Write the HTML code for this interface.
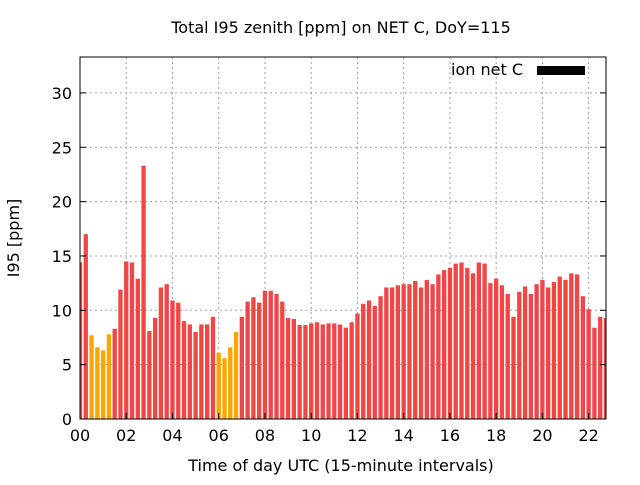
<!DOCTYPE html>
<html><head><meta charset="utf-8"><style>
body{margin:0;background:#fff}
svg text{font-family:"DejaVu Sans","Liberation Sans",sans-serif;fill:#000}
</style></head><body>
<svg id="chart" width="640" height="480" viewBox="0 0 640 480">
<text x="341" y="33" font-size="16" text-anchor="middle">Total I95 zenith [ppm] on NET C, DoY=115</text>
<text x="341" y="471" font-size="16" text-anchor="middle">Time of day UTC (15-minute intervals)</text>
<text transform="translate(19,238) rotate(-90)" font-size="16" text-anchor="middle">I95 [ppm]</text>
<g id="grid"></g><g id="bars"></g><g id="axes"></g>
<g>
<text x="523" y="75" font-size="16" text-anchor="end">ion net C</text>
<rect x="537" y="66" width="48" height="9" fill="#000"/>
</g>
</svg>
<script>
const values=[14.4,17.0,7.7,6.6,6.3,7.8,8.3,11.9,14.5,14.4,12.9,23.3,8.1,9.3,12.1,12.4,10.9,10.7,9.0,8.7,8.0,8.7,8.7,9.4,6.1,5.6,6.6,8.0,9.4,10.8,11.2,10.7,11.8,11.8,11.5,10.8,9.3,9.2,8.65,8.65,8.8,8.9,8.7,8.8,8.8,8.7,8.4,8.9,9.7,10.6,10.9,10.4,11.3,12.1,12.1,12.3,12.4,12.4,12.7,12.1,12.8,12.4,13.3,13.7,13.9,14.3,14.4,13.9,13.4,14.4,14.3,12.5,12.9,12.3,11.5,9.4,11.7,12.2,11.5,12.4,12.8,12.1,12.6,13.1,12.8,13.4,13.3,11.3,10.1,8.4,9.4,9.3];
const orangeIdx=[2,3,4,5,24,25,26,27];
const yTicks=[0,5,10,15,20,25,30];
const xTickLabels=["00","02","04","06","08","10","12","14","16","18","20","22"];
const NS="http://www.w3.org/2000/svg";
const L=80,R=606,T=57,B=419,step=5.78;
const xs=i=>L+i*step;
const ys=v=>B-v*10.87;
function mk(tag,attrs,parent){const e=document.createElementNS(NS,tag);for(const k in attrs)e.setAttribute(k,attrs[k]);parent.appendChild(e);return e;}
const grid=document.getElementById('grid'),bars=document.getElementById('bars'),axes=document.getElementById('axes');
const cp=mk('clipPath',{id:'cp'},document.getElementById('chart'));
mk('rect',{x:L,y:T,width:R-L,height:B-T},cp);
bars.setAttribute('clip-path','url(#cp)');
yTicks.forEach(v=>{
 const y=ys(v);
 if(v>0){const g=mk('line',{x1:L,x2:R,y1:y,y2:y,stroke:'#a0a0a0','stroke-dasharray':'2,3'},grid);
 
 }
 const t=mk('line',{x1:L,x2:L+6,y1:y,y2:y,stroke:'#000'},axes);
 
 
 const t2=mk('line',{x1:R,x2:R-6,y1:y,y2:y,stroke:'#000'},axes);
 
 
 const lb=mk('text',{x:L-8,y:y+6,'font-size':16,'text-anchor':'end'},axes);lb.textContent=v;
 
 
});
xTickLabels.forEach((s,k)=>{
 const x=xs(k*8);
 if(k>0){const g=mk('line',{x1:x,x2:x,y1:T,y2:B,stroke:'#a0a0a0','stroke-dasharray':'2,3'},grid);
 
 }
 const t=mk('line',{x1:x,x2:x,y1:B,y2:B-6,stroke:'#000'},axes);
 
 
 const lb=mk('text',{x:x,y:B+22,'font-size':16,'text-anchor':'middle'},axes);lb.textContent=s;
 
 
});
values.forEach((v,i)=>{
 const w=4.3;
 const r=mk('rect',{x:xs(i)-w/2,y:ys(v),width:w,height:B-ys(v),fill:orangeIdx.includes(i)?'#ffa500':'#f04646'},bars);
 
 
});
const fr=mk('rect',{x:L,y:T,width:R-L,height:B-T,fill:'none',stroke:'#000','stroke-width':1},axes);


</script>
</body></html>
